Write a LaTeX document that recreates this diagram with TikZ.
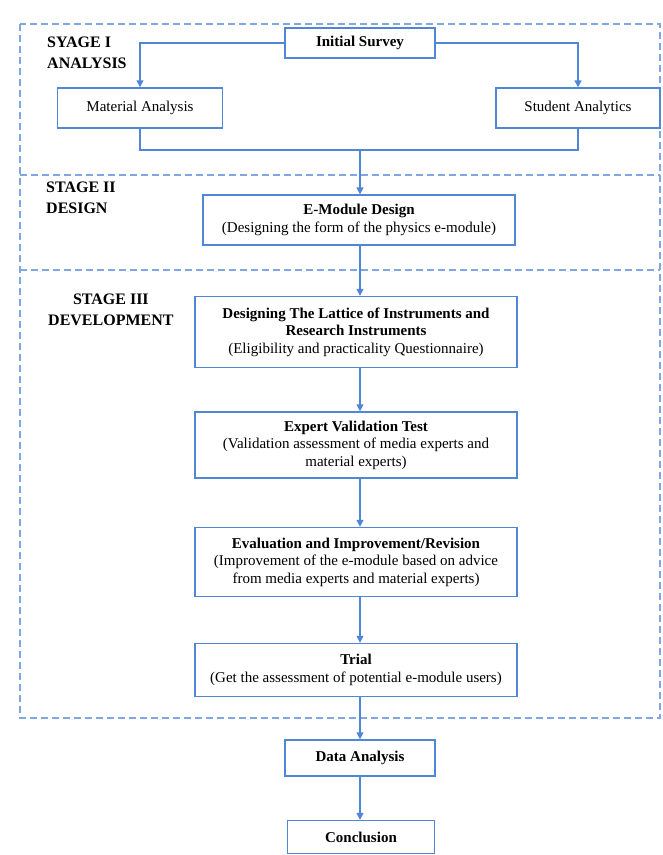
\documentclass[tikz,border=0pt]{standalone}
\usepackage{fontspec}
\setmainfont{Liberation Serif}
\usetikzlibrary{arrows.meta}
\definecolor{boxblue}{HTML}{4F86D6}
\definecolor{dashblue}{HTML}{7FA8E2}
\begin{document}
\begin{tikzpicture}[x=1pt,y=-1pt,
  box/.style={draw=boxblue,line width=1.4pt,align=center,inner sep=2pt,font=\fontsize{15}{17.5}\selectfont},
  frame/.style={draw=dashblue,line width=1.8pt,dash pattern=on 7pt off 4pt},
  conn/.style={draw=boxblue,line width=1.4pt},
  arr/.style={conn,-{Triangle[length=7pt,width=7pt]}},
  stagelbl/.style={anchor=north west,align=left,inner sep=0pt,font=\fontsize{16}{20.5}\selectfont\bfseries}]
\useasboundingbox (0,0) rectangle (663,855);
% stage frames
\draw[frame] (20,24) rectangle (660,718);
\draw[frame] (20,175) -- (660,175);
\draw[frame] (20,270) -- (660,270);
% stage labels
\node[stagelbl] (s1) at (47,37) {SYAGE I\\ANALYSIS};
\node[stagelbl] (s2) at (46,182) {STAGE II\\DESIGN};
\node[stagelbl,align=center] (s3) at (48,294) {STAGE III\\DEVELOPMENT};
% boxes
\node[box,minimum width=150,minimum height=30] (init) at (360,43) {\bfseries Initial Survey};
\node[box,minimum width=165,minimum height=40] (mat) at (140,108) {Material Analysis};
\node[box,minimum width=164,minimum height=40] (stu) at (578,108) {Student Analytics};
\node[box,minimum width=312,minimum height=50] (emod) at (359,220) {\bfseries E-Module Design\\(Designing the form of the physics e-module)};
\node[box,minimum width=322,minimum height=71] (lat) at (356,332) {\bfseries Designing The Lattice of Instruments and\\\bfseries Research Instruments\\(Eligibility and practicality Questionnaire)};
\node[box,minimum width=322,minimum height=66] (exp) at (356,445) {\bfseries Expert Validation Test\\(Validation assessment of media experts and\\material experts)};
\node[box,minimum width=322,minimum height=69] (eva) at (356,562) {\bfseries Evaluation and Improvement/Revision\\(Improvement of the e-module based on advice\\from media experts and material experts)};
\node[box,minimum width=322,minimum height=53] (tri) at (356,670) {\bfseries Trial\\(Get the assessment of potential e-module users)};
\node[box,minimum width=150,minimum height=36] (dat) at (360,758) {\bfseries Data Analysis};
\node[box,minimum width=147,minimum height=33] (con) at (361,837) {\bfseries Conclusion};
% connectors
\coordinate (m) at (360,150);
\draw[arr] (init.west) -| (mat.north);
\draw[arr] (init.east) -| (stu.north);
\draw[conn] (mat.south) |- (m) -| (stu.south);
\draw[arr] (m) -- (emod.north -| m);
\draw[arr] (emod.south -| m) -- (lat.north -| m);
\draw[arr] (lat.south -| m) -- (exp.north -| m);
\draw[arr] (exp.south -| m) -- (eva.north -| m);
\draw[arr] (eva.south -| m) -- (tri.north -| m);
\draw[arr] (tri.south -| m) -- (dat.north -| m);
\draw[arr] (dat.south -| m) -- (con.north -| m);
\end{tikzpicture}
\end{document}
